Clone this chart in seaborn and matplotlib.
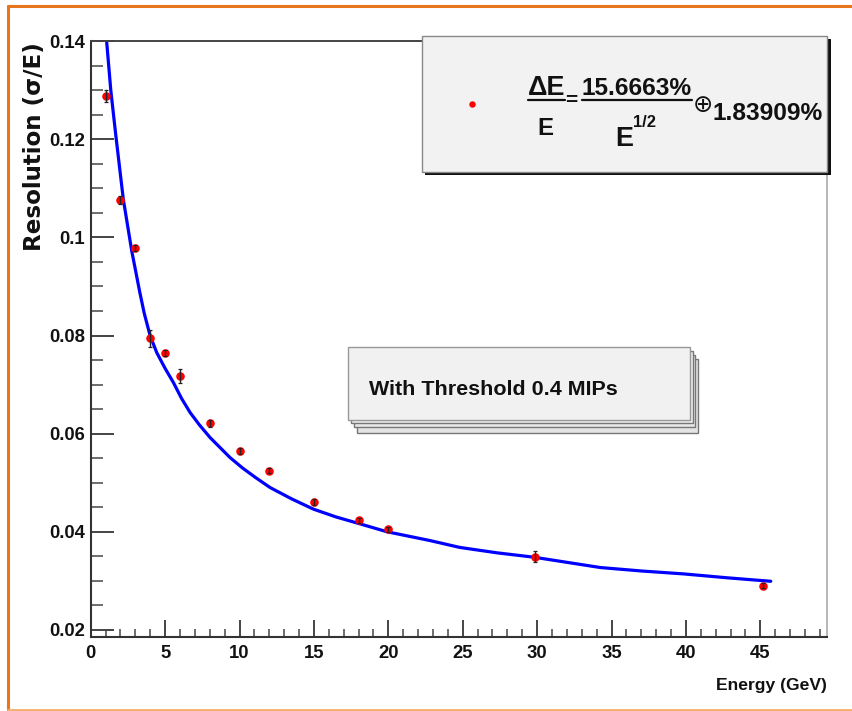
import numpy as np
import pandas as pd
import matplotlib
matplotlib.use("Agg")
import matplotlib.pyplot as plt
import seaborn as sns
from matplotlib.patches import Rectangle
from matplotlib.lines import Line2D

# ---------------- data ----------------
energy = [1, 2, 3, 4, 5, 6, 8, 10, 12, 15, 18, 20, 29.85, 45.15]
resolution = [0.1288, 0.1077, 0.0979, 0.0794, 0.0765, 0.0718, 0.0621,
              0.0564, 0.0524, 0.0460, 0.0423, 0.0405, 0.0349, 0.0290]
res_err = [0.0012, 0.0008, 0.0006, 0.0018, 0.0006, 0.0014, 0.0007,
           0.0006, 0.0005, 0.0006, 0.0006, 0.0005, 0.0011, 0.0005]

fit_energy = [1.07, 1.35, 1.68, 2.19, 2.76, 3.3, 3.6, 3.99, 4.44, 5.0,
              5.56, 6.1, 6.68, 7.3, 8.02, 9.37, 10.2, 11.1, 12.06, 13.5,
              14.97, 16.5, 18.1, 19.9, 22.8, 24.8, 27.3, 29.8, 34.25,
              37.0, 39.85, 42.8, 45.7]
fit_resolution = [0.1400, 0.1300, 0.1210, 0.1078, 0.0972, 0.0888, 0.0845,
                  0.0800, 0.0765, 0.0733, 0.0704, 0.0672, 0.0643, 0.0618,
                  0.0592, 0.0551, 0.0530, 0.0510, 0.0490, 0.0467, 0.0446,
                  0.0430, 0.0416, 0.0400, 0.0382, 0.0368, 0.0357, 0.0348,
                  0.0327, 0.0320, 0.0314, 0.0306, 0.0299]

xtick_values = [0, 5, 10, 15, 20, 25, 30, 35, 40, 45]
xtick_labels = ["0", "5", "10", "15", "20", "25", "30", "35", "40", "45"]
ytick_values = [0.02, 0.04, 0.06, 0.08, 0.10, 0.12, 0.14]
ytick_labels = ["0.02", "0.04", "0.06", "0.08", "0.1", "0.12", "0.14"]

legend_lhs_num = "ΔE"
legend_lhs_den = "E"
legend_stoch = "15.6663%"
legend_const = "1.83909%"
box_text = "With Threshold 0.4 MIPs"
x_label = "Energy (GeV)"
y_label = "Resolution (σ/E)"

# ---------------- style ----------------
sns.set_theme(style="white")
FAM = ["Liberation Sans", "DejaVu Sans"]
plt.rcParams["font.family"] = FAM
plt.rcParams["font.weight"] = "bold"

W, H = 852, 711
fig = plt.figure(figsize=(W / 100, H / 100), dpi=100)
fig.patch.set_facecolor("white")

def fx(x):
    return x / W

def fy(y):
    return 1 - y / H

def pt(px):
    return px * 0.72

AX_L, AX_R, AX_T, AX_B = 90.7, 827.3, 41.2, 636.7
ax = fig.add_axes([fx(AX_L), fy(AX_B), (AX_R - AX_L) / W, (AX_B - AX_T) / H])
ax.set_facecolor("white")

df_pts = pd.DataFrame({"energy": energy, "resolution": resolution})
df_fit = pd.DataFrame({"energy": fit_energy, "resolution": fit_resolution})

sns.lineplot(data=df_fit, x="energy", y="resolution", color="#0000ff",
             linewidth=2.3, sort=False, estimator=None, ax=ax, zorder=2)
sns.scatterplot(data=df_pts, x="energy", y="resolution", color="#ff0000",
                s=38, linewidth=0, ax=ax, zorder=3)
ax.errorbar(energy, resolution, yerr=res_err, fmt="none", ecolor="#222222",
            elinewidth=1.0, capsize=1.6, capthick=0.9, zorder=4)

ax.set_xlim(0, 49.5)
ax.set_ylim(0.0186, 0.14)
ax.set_xlabel("")
ax.set_ylabel("")

ax.set_xticks(xtick_values)
ax.set_xticklabels(xtick_labels)
ax.set_xticks(np.arange(0, 50, 1), minor=True)
ax.set_yticks(ytick_values)
ax.set_yticklabels(ytick_labels)
ax.set_yticks(np.arange(0.02, 0.1401, 0.005), minor=True)

ax.tick_params(axis="x", which="major", direction="in", length=12.2, width=1.4,
               color="#444444", pad=6, labelsize=pt(18.5), bottom=True, top=False)
ax.tick_params(axis="x", which="minor", direction="in", length=5.8, width=1.2,
               color="#555555", bottom=True, top=False)
ax.tick_params(axis="y", which="major", direction="in", length=16.6, width=1.4,
               color="#444444", pad=4, labelsize=pt(18.5), left=True, right=False)
ax.tick_params(axis="y", which="minor", direction="in", length=8.6, width=1.2,
               color="#555555", left=True, right=False)
for lab in ax.get_xticklabels() + ax.get_yticklabels():
    lab.set_fontweight("bold")
    lab.set_color("#111111")

for side in ["left", "bottom"]:
    ax.spines[side].set_color("#333333")
    ax.spines[side].set_linewidth(1.5)
ax.spines["top"].set_color("#444444")
ax.spines["top"].set_linewidth(1.4)
ax.spines["right"].set_color("#aaaaaa")
ax.spines["right"].set_linewidth(1.2)

# axis titles
fig.text(fx(AX_R), fy(690), x_label, ha="right", va="baseline",
         fontsize=pt(17.5), fontweight="bold", color="#111111")
fig.text(fx(35), fy(147), y_label, rotation=90, ha="center", va="center",
         fontsize=pt(23), fontweight="bold", color="#111111",
         family=["DejaVu Sans"])

# ---------------- helpers for pixel-placed decorations ----------------
def rect(x0, y0, x1, y1, **kw):
    r = Rectangle((fx(x0), fy(y1)), (x1 - x0) / W, (y1 - y0) / H,
                  transform=fig.transFigure, **kw)
    fig.add_artist(r)
    return r

def hline(x0, x1, y, **kw):
    l = Line2D([fx(x0), fx(x1)], [fy(y), fy(y)], transform=fig.transFigure, **kw)
    fig.add_artist(l)
    return l

def vline(x, y0, y1, **kw):
    l = Line2D([fx(x), fx(x)], [fy(y0), fy(y1)], transform=fig.transFigure, **kw)
    fig.add_artist(l)
    return l

# ---------------- legend (fit formula) ----------------
rect(424.7, 39, 830.5, 174.7, facecolor="#111111", edgecolor="none", zorder=5)
rect(421.7, 36, 827.3, 171.7, facecolor="#f2f2f2", edgecolor="#888888",
     linewidth=1.0, zorder=6)
fig.add_artist(Line2D([fx(471.7)], [fy(104.3)], marker="o", markersize=3.6,
                      color="#ff0000", linestyle="none",
                      transform=fig.transFigure, zorder=7))
tk = dict(fontweight="bold", color="#111111", zorder=8)
fig.text(fx(546.5), fy(95), legend_lhs_num, ha="center", va="baseline",
         fontsize=pt(27), **tk)
hline(528, 565, 100, color="#111111", linewidth=1.6, zorder=8)
fig.text(fx(545.5), fy(135), legend_lhs_den, ha="center", va="baseline",
         fontsize=pt(24), **tk)
fig.text(fx(571), fy(106.5), "=", ha="center", va="baseline",
         fontsize=pt(21), **tk)
fig.text(fx(636.7), fy(95), legend_stoch, ha="center", va="baseline",
         fontsize=pt(24.5), **tk)
hline(581.7, 691.7, 100, color="#111111", linewidth=1.6, zorder=8)
fig.text(fx(633), fy(146), "E", ha="right", va="baseline",
         fontsize=pt(27), **tk)
fig.text(fx(633.5), fy(127), "1/2", ha="left", va="baseline",
         fontsize=pt(16.5), **tk)
fig.text(fx(702.5), fy(112), "⊕", ha="center", va="baseline",
         fontsize=pt(24), family=["DejaVu Sans"], fontweight="normal",
         color="#111111", zorder=8)
fig.text(fx(712), fy(120), legend_const, ha="left", va="baseline",
         fontsize=pt(24.5), **tk)

# ---------------- stacked text box ----------------
rect(356.8, 359.3, 698.3, 432.7, facecolor="#e4e4e4", edgecolor="#777777",
     linewidth=1.0, zorder=5)
rect(353.8, 355.3, 695.3, 426.7, facecolor="#e8e8e8", edgecolor="#777777",
     linewidth=1.0, zorder=5.1)
rect(351.0, 351.3, 692.7, 423.0, facecolor="#ececec", edgecolor="#777777",
     linewidth=1.0, zorder=5.2)
rect(348.3, 347.3, 690.0, 420.0, facecolor="#f1f1f1", edgecolor="#999999",
     linewidth=1.0, zorder=5.3)
fig.text(fx(369.3), fy(395), box_text, ha="left", va="baseline",
         fontsize=pt(21.5), **tk)

# ---------------- orange frame ----------------
ORANGE = "#e8761c"
hline(8, 852, 5.5, color=ORANGE, linewidth=2.2, zorder=9)
vline(8.3, 5.5, 710, color=ORANGE, linewidth=2.2, zorder=9)
hline(8, 852, 709.5, color="#f5ad6a", linewidth=2.0, zorder=9)

fig.savefig("out.png", dpi=100, facecolor="white")
